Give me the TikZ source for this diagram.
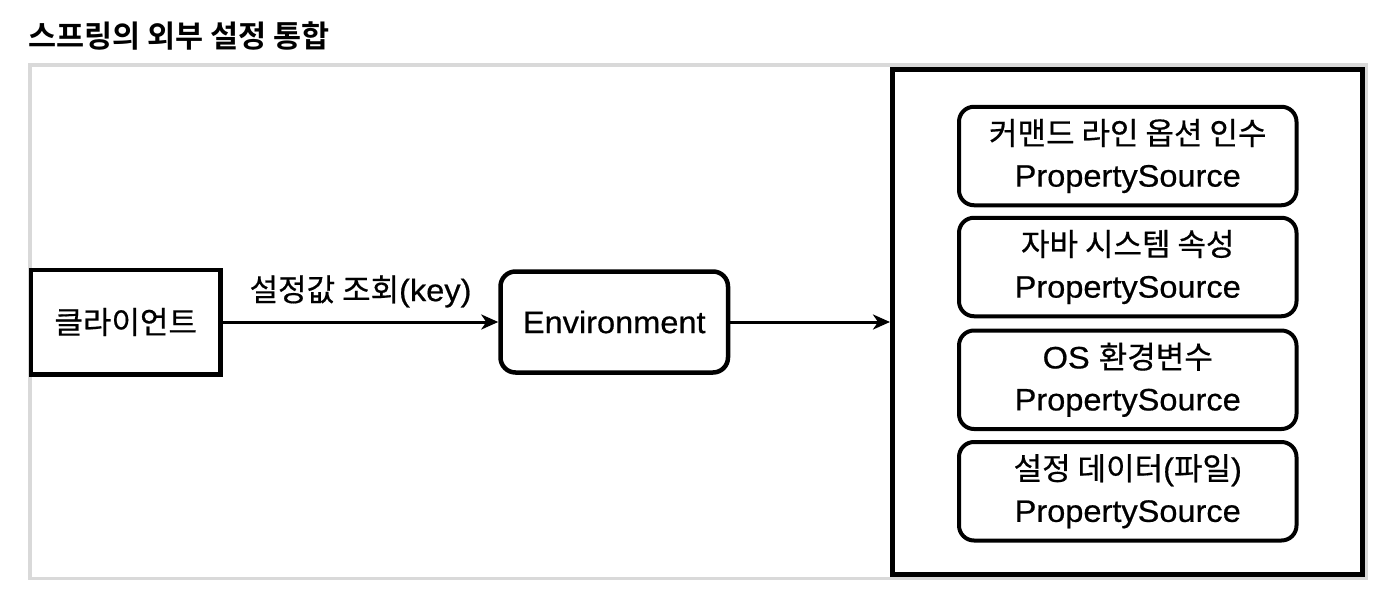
\documentclass[tikz,border=0pt]{standalone}
\usepackage{fontspec}
\setmainfont{Liberation Sans}[FakeStretch=1.05,FakeBold=0.6]
\newfontfamily\kr{Noto Sans CJK KR}[Scale=1.0,FakeBold=0.5,BoldFont={Noto Sans CJK KR Bold},BoldFeatures={FakeBold=0}]
\usetikzlibrary{arrows.meta}
\newcommand\K[1]{{\kr #1}}
\definecolor{framegray}{HTML}{D9D9D9}
\begin{document}
\begin{tikzpicture}[x=1pt,y=-1pt,
  txt/.style={font=\fontsize{31}{42}\selectfont, align=center, inner sep=0pt},
  box/.style={txt, draw, line width=4.5pt},
  rbox/.style={box, rounded corners=15pt},
  ps/.style={rbox, line width=4pt, minimum width=337.5pt, minimum height=98.5pt},
  arr/.style={-{Stealth[length=17pt,width=15pt,inset=5pt]}, line width=3pt}]
\useasboundingbox (0,0) rectangle (1398,594);
\node[anchor=west, inner sep=0pt, font=\fontsize{30.5}{36}\selectfont\kr\bfseries] (title) at (28,36) {스프링의 외부 설정 통합};
\node[draw=framegray, line width=3.5pt, minimum width=1336pt, minimum height=513.5pt, inner sep=0pt] (frame) at (698,321.75) {};
\node[draw, fill=white, line width=5pt, minimum width=470pt, minimum height=505pt, inner sep=0pt] (store) at (1127.5,322) {};
\node[box, minimum width=189.5pt, minimum height=104.5pt] (client) at (125.75,322) {\K{클라이언트}};
\node[rbox, minimum width=227.5pt, minimum height=101pt] (env) at (614.25,322) {Environment};
\draw[arr] (client) -- (env) node[midway, above=13pt, txt] (lbl) {\K{설정값 조회}(key)};
\draw[arr] (env) -- (store);
\node[ps] (ps1) at (1127.75,156) {\K{커맨드 라인 옵션 인수}\\PropertySource};
\node[ps] (ps2) at (1127.75,267) {\K{자바 시스템 속성}\\PropertySource};
\node[ps] (ps3) at (1127.75,379.75) {OS \K{환경변수}\\PropertySource};
\node[ps] (ps4) at (1127.75,491.25) {\K{설정 데이터}(\K{파일})\\PropertySource};
\end{tikzpicture}
\end{document}
